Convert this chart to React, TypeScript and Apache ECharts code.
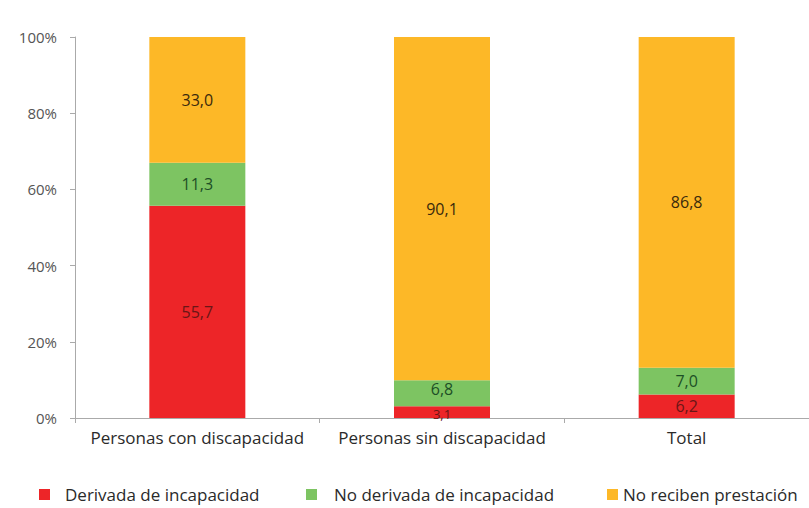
import React, { useEffect, useRef } from "react";
import * as echarts from "echarts";

const categories = ["Personas con discapacidad", "Personas sin discapacidad", "Total"];
const seriesNames = ["Derivada de incapacidad", "No derivada de incapacidad", "No reciben prestación"];
const derivada = [55.7, 3.1, 6.2];
const noDerivada = [11.3, 6.8, 7.0];
const noReciben = [33.0, 90.1, 86.8];
const yTicks = [0, 20, 40, 60, 80, 100];

const colors = ["#ED2528", "#7DC462", "#FDB827"];
const labelColors = ["#6a1616", "#1d4f26", "#3b2a0c"];

const FONT = "Open Sans";

export default function App() {
  const ref = useRef<HTMLDivElement>(null);
  useEffect(() => {
    if (!ref.current) return;
    const chart = echarts.init(ref.current, null, { renderer: "svg" });
    const datas = [derivada, noDerivada, noReciben];
    const legendLeft = [39, 306, 607];
    const legendPad = [10, 12, 0];
    chart.setOption({
      animation: false,
      backgroundColor: "#ffffff",
      textStyle: { fontFamily: FONT },
      grid: { left: 75, right: 0, top: 37, bottom: 90, containLabel: false },
      legend: seriesNames.map((n, i) => ({
        data: [n],
        left: legendLeft[i],
        top: 484,
        padding: [2, 0, 2, 0],
        itemWidth: 11,
        itemHeight: 11,
        icon: "rect",
        textStyle: { fontFamily: FONT, fontSize: 17, color: "#2a2a2a", padding: [0, 0, 0, legendPad[i]] },
      })),
      xAxis: {
        type: "category",
        data: categories,
        axisLine: { lineStyle: { color: "#aaaaaa", width: 1 } },
        axisTick: { show: true, length: 5, lineStyle: { color: "#aaaaaa" } },
        axisLabel: { fontFamily: FONT, fontSize: 17, color: "#2a2a2a", margin: 11, interval: 0 },
      },
      yAxis: {
        type: "value",
        min: 0,
        max: 100,
        interval: 20,
        axisLine: { show: true, lineStyle: { color: "#aaaaaa", width: 1 } },
        axisTick: { show: true, length: 5, lineStyle: { color: "#aaaaaa" } },
        splitLine: { show: false },
        axisLabel: {
          fontFamily: FONT,
          fontSize: 15,
          color: "#555",
          margin: 18,
          formatter: (v: number) => (yTicks.includes(v) ? v + "%" : ""),
        },
      },
      series: seriesNames.map((n, i) => ({
        name: n,
        type: "bar",
        stack: "total",
        barWidth: 96,
        data: datas[i].map((v, j) => {
          const small = v < 5;
          const belowSmall = i === 1 && derivada[j] < 5;
          return {
            value: v,
            label: small
              ? { fontSize: 13, offset: [0, 2] }
              : belowSmall
              ? { offset: [0, -4] }
              : {},
          };
        }),
        itemStyle: { color: colors[i] },
        label: {
          show: true,
          position: "inside",
          fontFamily: FONT,
          fontSize: 16,
          color: labelColors[i],
          formatter: (p: any) => Number(p.value).toFixed(1).replace(".", ","),
        },
      })),
    });
    return () => chart.dispose();
  }, []);
  return <div ref={ref} style={{ width: 809, height: 508, position: "absolute", left: 0, top: 0 }} />;
}
